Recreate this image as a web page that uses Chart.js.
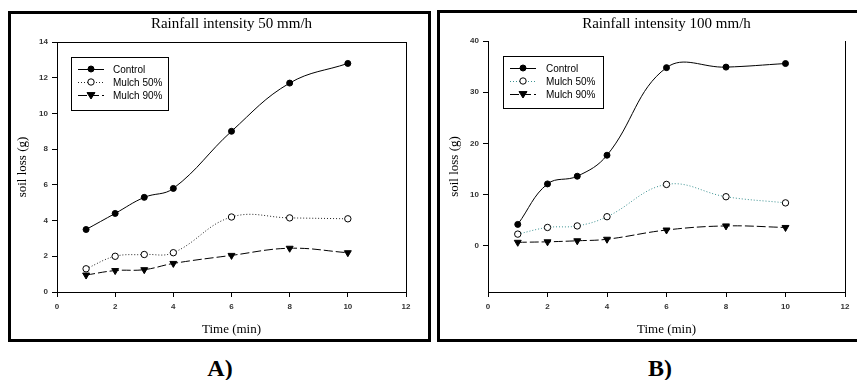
<!DOCTYPE html>
<html>
<head>
<meta charset="utf-8">
<script src="https://cdn.jsdelivr.net/npm/chart.js@4.4.1/dist/chart.umd.min.js"></script>
<style>
  body { margin: 0; background: #fff; width: 857px; height: 380px; overflow: hidden; position: relative; }
  .wrap { position: absolute; top: 0; }
  .box { position: absolute; border: 3px solid #000; box-sizing: border-box; pointer-events: none; }
  .lab { position: absolute; font: bold 24px/1 "Liberation Serif", serif; transform: translate(-50%, -50%); }
</style>
</head>
<body>
<div class="wrap" style="left:0px"><canvas id="chartA" width="432" height="342"></canvas></div>
<div class="wrap" style="left:430px"><canvas id="chartB" width="427" height="342"></canvas></div>
<div class="box" style="left:8px;top:11px;width:423px;height:331px"></div>
<div class="box" style="left:437px;top:10px;width:430px;height:332px"></div>
<div class="lab" style="left:220px;top:368px">A)</div>
<div class="lab" style="left:660px;top:368px">B)</div>
<script>
// time axis
const timeMin = [1, 2, 3, 4, 6, 8, 10];
const xTicks = [0, 2, 4, 6, 8, 10, 12];
const seriesNames = ['Control', 'Mulch 50%', 'Mulch 90%'];

// A) rainfall 50 mm/h
const controlA = [3.5, 4.4, 5.3, 5.8, 9.0, 11.7, 12.8];
const mulch50A = [1.3, 2.0, 2.1, 2.2, 4.2, 4.15, 4.1];
const mulch90A = [0.95, 1.2, 1.25, 1.6, 2.05, 2.45, 2.2];
const yTicksA = [0, 2, 4, 6, 8, 10, 12, 14];

// B) rainfall 100 mm/h
const controlB = [4.2, 12.1, 13.6, 17.7, 34.8, 34.9, 35.6];
const mulch50B = [2.3, 3.6, 3.9, 5.7, 12.0, 9.6, 8.4];
const mulch90B = [0.7, 0.8, 1.0, 1.3, 3.1, 3.9, 3.6];
const yTicksB = [0, 10, 20, 30, 40];

function pts(vals) {
  return timeMin.map((t, i) => ({ x: t, y: vals[i] }));
}

function drawMarker(ctx, ds, x, y) {
  ctx.save();
  ctx.setLineDash([]);
  ctx.lineWidth = 1;
  ctx.strokeStyle = '#000';
  ctx.fillStyle = ds.pointBackgroundColor;
  ctx.beginPath();
  if (ds.pointStyle === 'triangle') {
    const r = ds.pointRadius;
    ctx.moveTo(x - r, y - r * 0.6);
    ctx.lineTo(x + r, y - r * 0.6);
    ctx.lineTo(x, y + r);
    ctx.closePath();
  } else {
    ctx.arc(x, y, ds.pointRadius, 0, Math.PI * 2);
  }
  ctx.fill();
  ctx.stroke();
  ctx.restore();
}

// legend drawn in a box inside the plot
const boxLegend = {
  id: 'boxLegend',
  afterDraw(chart, args, opts) {
    const { ctx, chartArea: ca } = chart;
    const x0 = Math.round(ca.left + opts.dx), y0 = Math.round(ca.top + opts.dy);
    ctx.save();
    ctx.fillStyle = '#fff';
    ctx.fillRect(x0, y0, opts.w, opts.h);
    ctx.strokeStyle = '#000';
    ctx.lineWidth = 1;
    ctx.strokeRect(x0 + 0.5, y0 + 0.5, opts.w, opts.h);
    chart.data.datasets.forEach((ds, i) => {
      const y = y0 + 12 + i * 13;
      ctx.setLineDash(ds.borderDash || []);
      ctx.strokeStyle = ds.borderColor;
      ctx.beginPath();
      ctx.moveTo(x0 + 7, y + 0.5);
      ctx.lineTo(x0 + 33, y + 0.5);
      ctx.stroke();
      drawMarker(ctx, ds, x0 + 20, y);
      ctx.fillStyle = '#000';
      ctx.font = '10px "Liberation Sans", sans-serif';
      ctx.textBaseline = 'middle';
      ctx.fillText(ds.label, x0 + opts.tx, y + 1);
    });
    ctx.restore();
  }
};

// title centred over plot + extra frame lines
const panelDeco = {
  id: 'panelDeco',
  afterDraw(chart, args, opts) {
    const { ctx, chartArea: ca } = chart;
    ctx.save();
    ctx.strokeStyle = '#000';
    ctx.lineWidth = 1;
    ctx.beginPath();
    if (opts.top) { ctx.moveTo(ca.left, ca.top + 0.5); ctx.lineTo(ca.right + 0.5, ca.top + 0.5); }
    ctx.moveTo(ca.right + 0.5, ca.top);
    ctx.lineTo(ca.right + 0.5, ca.bottom);
    ctx.stroke();
    ctx.fillStyle = '#000';
    ctx.font = '15px "Liberation Serif", serif';
    ctx.textAlign = 'center';
    ctx.textBaseline = 'middle';
    ctx.fillText(opts.text, (ca.left + ca.right) / 2, opts.ty);
    ctx.restore();
  }
};

function makeChart(id, cfg) {
  const datasets = [
    { label: seriesNames[0], data: pts(cfg.control), borderColor: '#000', borderWidth: 1,
      pointStyle: 'circle', pointRadius: 3, pointBackgroundColor: '#000', pointBorderColor: '#000' },
    { label: seriesNames[1], data: pts(cfg.m50), borderColor: cfg.m50Color, borderWidth: 1, borderDash: [1, 2],
      pointStyle: 'circle', pointRadius: 3.2, pointBackgroundColor: '#fff', pointBorderColor: '#000' },
    { label: seriesNames[2], data: pts(cfg.m90), borderColor: '#000', borderWidth: 1, borderDash: [9, 3],
      pointStyle: 'triangle', pointRadius: 4, pointRotation: 180, pointBackgroundColor: '#000', pointBorderColor: '#000' }
  ];
  const tickFont = { family: '"Liberation Sans", sans-serif', size: 8, weight: 'bold' };
  return new Chart(document.getElementById(id), {
    type: 'line',
    data: { datasets: datasets },
    options: {
      responsive: false,
      animation: false,
      layout: { padding: { top: cfg.top, right: cfg.right, bottom: 0, left: 0 } },
      elements: { line: { tension: 0.4 } },
      scales: {
        x: {
          type: 'linear', min: 0, max: 12,
          afterBuildTicks: s => { s.ticks = xTicks.map(v => ({ value: v })); },
          afterFit: s => { s.height = 50; },
          grid: { display: true, drawOnChartArea: false, drawTicks: true, tickLength: 5, color: '#000' },
          border: { display: true, color: '#000', width: 1 },
          ticks: { font: tickFont, color: '#333', padding: 5, maxRotation: 0 },
          title: { display: true, text: 'Time (min)', color: '#000',
            font: { family: '"Liberation Serif", serif', size: 13 }, padding: { top: 0, bottom: 5 } }
        },
        y: {
          type: 'linear', min: cfg.yMin, max: cfg.yMax,
          afterBuildTicks: s => { s.ticks = cfg.yTicks.map(v => ({ value: v })); },
          afterFit: s => { s.width = cfg.yWidth; },
          grid: { display: true, drawOnChartArea: false, drawTicks: true, tickLength: 5, color: '#000' },
          border: { display: true, color: '#000', width: 1 },
          ticks: { font: tickFont, color: '#333', padding: 4 },
          title: { display: true, text: 'soil loss (g)', color: '#000',
            font: { family: '"Liberation Serif", serif', size: 13 }, padding: { top: cfg.yTitlePad, bottom: 0 } }
        }
      },
      plugins: {
        legend: { display: false },
        tooltip: { enabled: false },
        boxLegend: cfg.legend,
        panelDeco: { text: cfg.title, ty: 24, top: cfg.frameTop }
      }
    },
    plugins: [boxLegend, panelDeco]
  });
}

makeChart('chartA', {
  title: 'Rainfall intensity 50 mm/h',
  control: controlA, m50: mulch50A, m90: mulch90A, m50Color: '#222',
  yMin: 0, yMax: 14, yTicks: yTicksA,
  top: 42, right: 26, yWidth: 57, yTitlePad: 15, frameTop: true,
  legend: { dx: 14, dy: 15, w: 97, h: 53, tx: 42 }
});

makeChart('chartB', {
  title: 'Rainfall intensity 100 mm/h',
  control: controlB, m50: mulch50B, m90: mulch90B, m50Color: '#3a9090',
  yMin: -9, yMax: 40, yTicks: yTicksB,
  top: 41, right: 12, yWidth: 58, yTitlePad: 17, frameTop: false,
  legend: { dx: 15, dy: 15, w: 100, h: 52, tx: 43 }
});
</script>
</body>
</html>
